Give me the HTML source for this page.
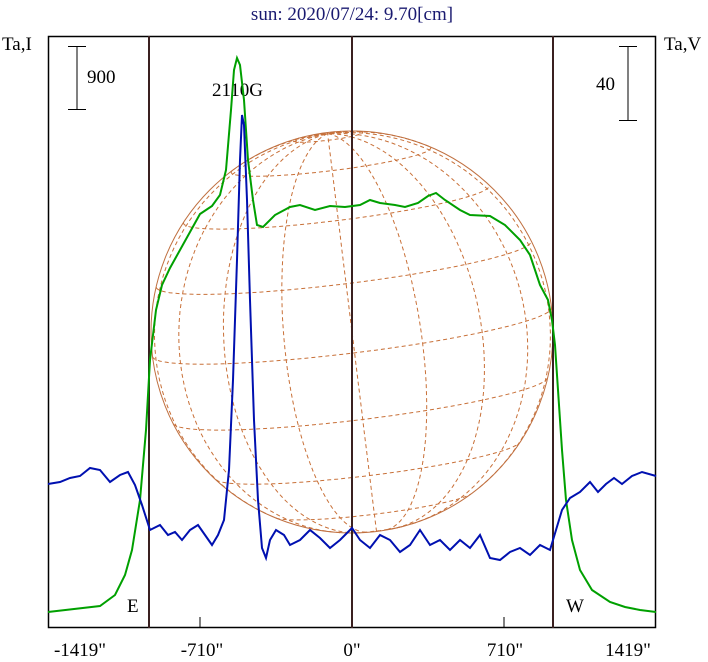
<!DOCTYPE html>
<html><head><meta charset="utf-8"><style>
body{margin:0;background:#fff;width:708px;height:662px;overflow:hidden}
svg{display:block}
text{font-family:"Liberation Serif",serif;font-size:19px;fill:#000}
</style></head><body>
<svg id="s" width="708" height="662" viewBox="0 0 708 662">
<rect width="708" height="662" fill="#fff"/>
<text x="352" y="20" text-anchor="middle" style="fill:#1a1a70">sun: 2020/07/24: 9.70[cm]</text>
<text x="2" y="50">Ta,I</text>
<text x="664" y="50">Ta,V</text>
<g id="grid" fill="none"></g>
<circle cx="352" cy="332" r="201" fill="none" stroke="#c07040" stroke-width="1"/>
<rect x="48.5" y="36.5" width="607" height="591" fill="none" stroke="#000" stroke-width="1.5"/>
<g stroke="#3a2020" stroke-width="2">
<line x1="149" y1="36" x2="149" y2="628"/><line x1="352" y1="36" x2="352" y2="628"/><line x1="553" y1="36" x2="553" y2="628"/>
</g>
<g stroke="#000" stroke-width="1">
<line x1="200" y1="617" x2="200" y2="628"/><line x1="504" y1="617" x2="504" y2="628"/>
<line x1="77" y1="46" x2="77" y2="109"/><line x1="68" y1="46.5" x2="86" y2="46.5"/><line x1="68" y1="109.5" x2="86" y2="109.5"/>
<line x1="628" y1="46" x2="628" y2="120"/><line x1="619" y1="46.5" x2="637" y2="46.5"/><line x1="619" y1="120.5" x2="637" y2="120.5"/>
</g>
<text x="87" y="83">900</text>
<text x="596" y="90">40</text>
<text x="212" y="96">2110G</text>
<text x="127" y="612">E</text>
<text x="566" y="612">W</text>
<g text-anchor="middle">
<text x="80" y="656">-1419"</text><text x="202" y="656">-710"</text><text x="352" y="656">0"</text><text x="505" y="656">710"</text><text x="628" y="656">1419"</text>
</g>
<polyline fill="none" stroke="#00a000" stroke-width="2" points="48,612 100,606 115,595 125,575 132,550 140,500 146,430 150,360 156,310 162,285 170,268 180,250 190,232 200,214 212,206 220,195 226,170 231,110 234,70 237,58 240,65 244,100 248,160 253,200 257,225 263,227 275,215 290,207 300,205 315,210 330,206 345,207 360,205 370,200 380,203 395,205 405,207 418,203 428,196 436,193 445,200 460,210 470,215 490,216 505,225 520,240 530,255 540,285 548,300 552,320 555,345 558,390 562,450 566,500 572,540 580,570 592,590 610,602 625,607 640,610 656,612"/>
<polyline fill="none" stroke="#0010b0" stroke-width="2" points="48,484 60,482 70,478 80,476 90,468 100,470 110,482 120,475 128,472 135,485 142,505 150,530 160,525 168,535 175,532 182,540 190,530 198,525 205,535 212,545 218,535 224,520 229,470 233,380 237,260 240,160 242,115 244,125 247,200 250,300 254,420 258,500 262,548 266,558 270,540 276,530 284,535 290,545 300,540 310,530 320,538 330,548 340,540 352,528 360,540 370,548 380,535 390,540 400,552 410,545 420,530 430,545 440,540 450,550 460,540 470,548 480,535 490,558 500,560 510,552 520,548 530,555 540,545 550,550 556,530 562,510 570,498 580,492 590,482 598,492 606,484 614,478 622,484 632,476 642,472 656,476"/>
</svg>
<script>
(function(){
var g=document.getElementById('grid'),cx=352,cy=332,R=201,B=6*Math.PI/180,P=7*Math.PI/180,d=Math.PI/180;
function pr(lat,lon){lat*=d;lon*=d;var x=Math.cos(lat)*Math.sin(lon),y=Math.sin(lat)*Math.cos(B)-Math.cos(lat)*Math.cos(lon)*Math.sin(B),z=Math.sin(lat)*Math.sin(B)+Math.cos(lat)*Math.cos(lon)*Math.cos(B);
var X=x*Math.cos(P)-y*Math.sin(P),Y=x*Math.sin(P)+y*Math.cos(P);return [cx+R*X,cy-R*Y,z];}
function add(pts){var s='',on=false;pts.forEach(function(p){if(p[2]>=0){s+=(on?'L':'M')+p[0].toFixed(1)+' '+p[1].toFixed(1);on=true;}else on=false;});
var e=document.createElementNS('http://www.w3.org/2000/svg','path');e.setAttribute('d',s);e.setAttribute('stroke','#c87038');e.setAttribute('stroke-width','1');e.setAttribute('stroke-dasharray','4,3');g.appendChild(e);}
for(var la=-80;la<=80;la+=20){var a=[];for(var lo=-180;lo<=180;lo+=3)a.push(pr(la,lo));add(a);}
for(var lo=-180;lo<180;lo+=20){var a=[];for(var la=-90;la<=90;la+=3)a.push(pr(la,lo));add(a);}
})();
</script>
</body></html>
